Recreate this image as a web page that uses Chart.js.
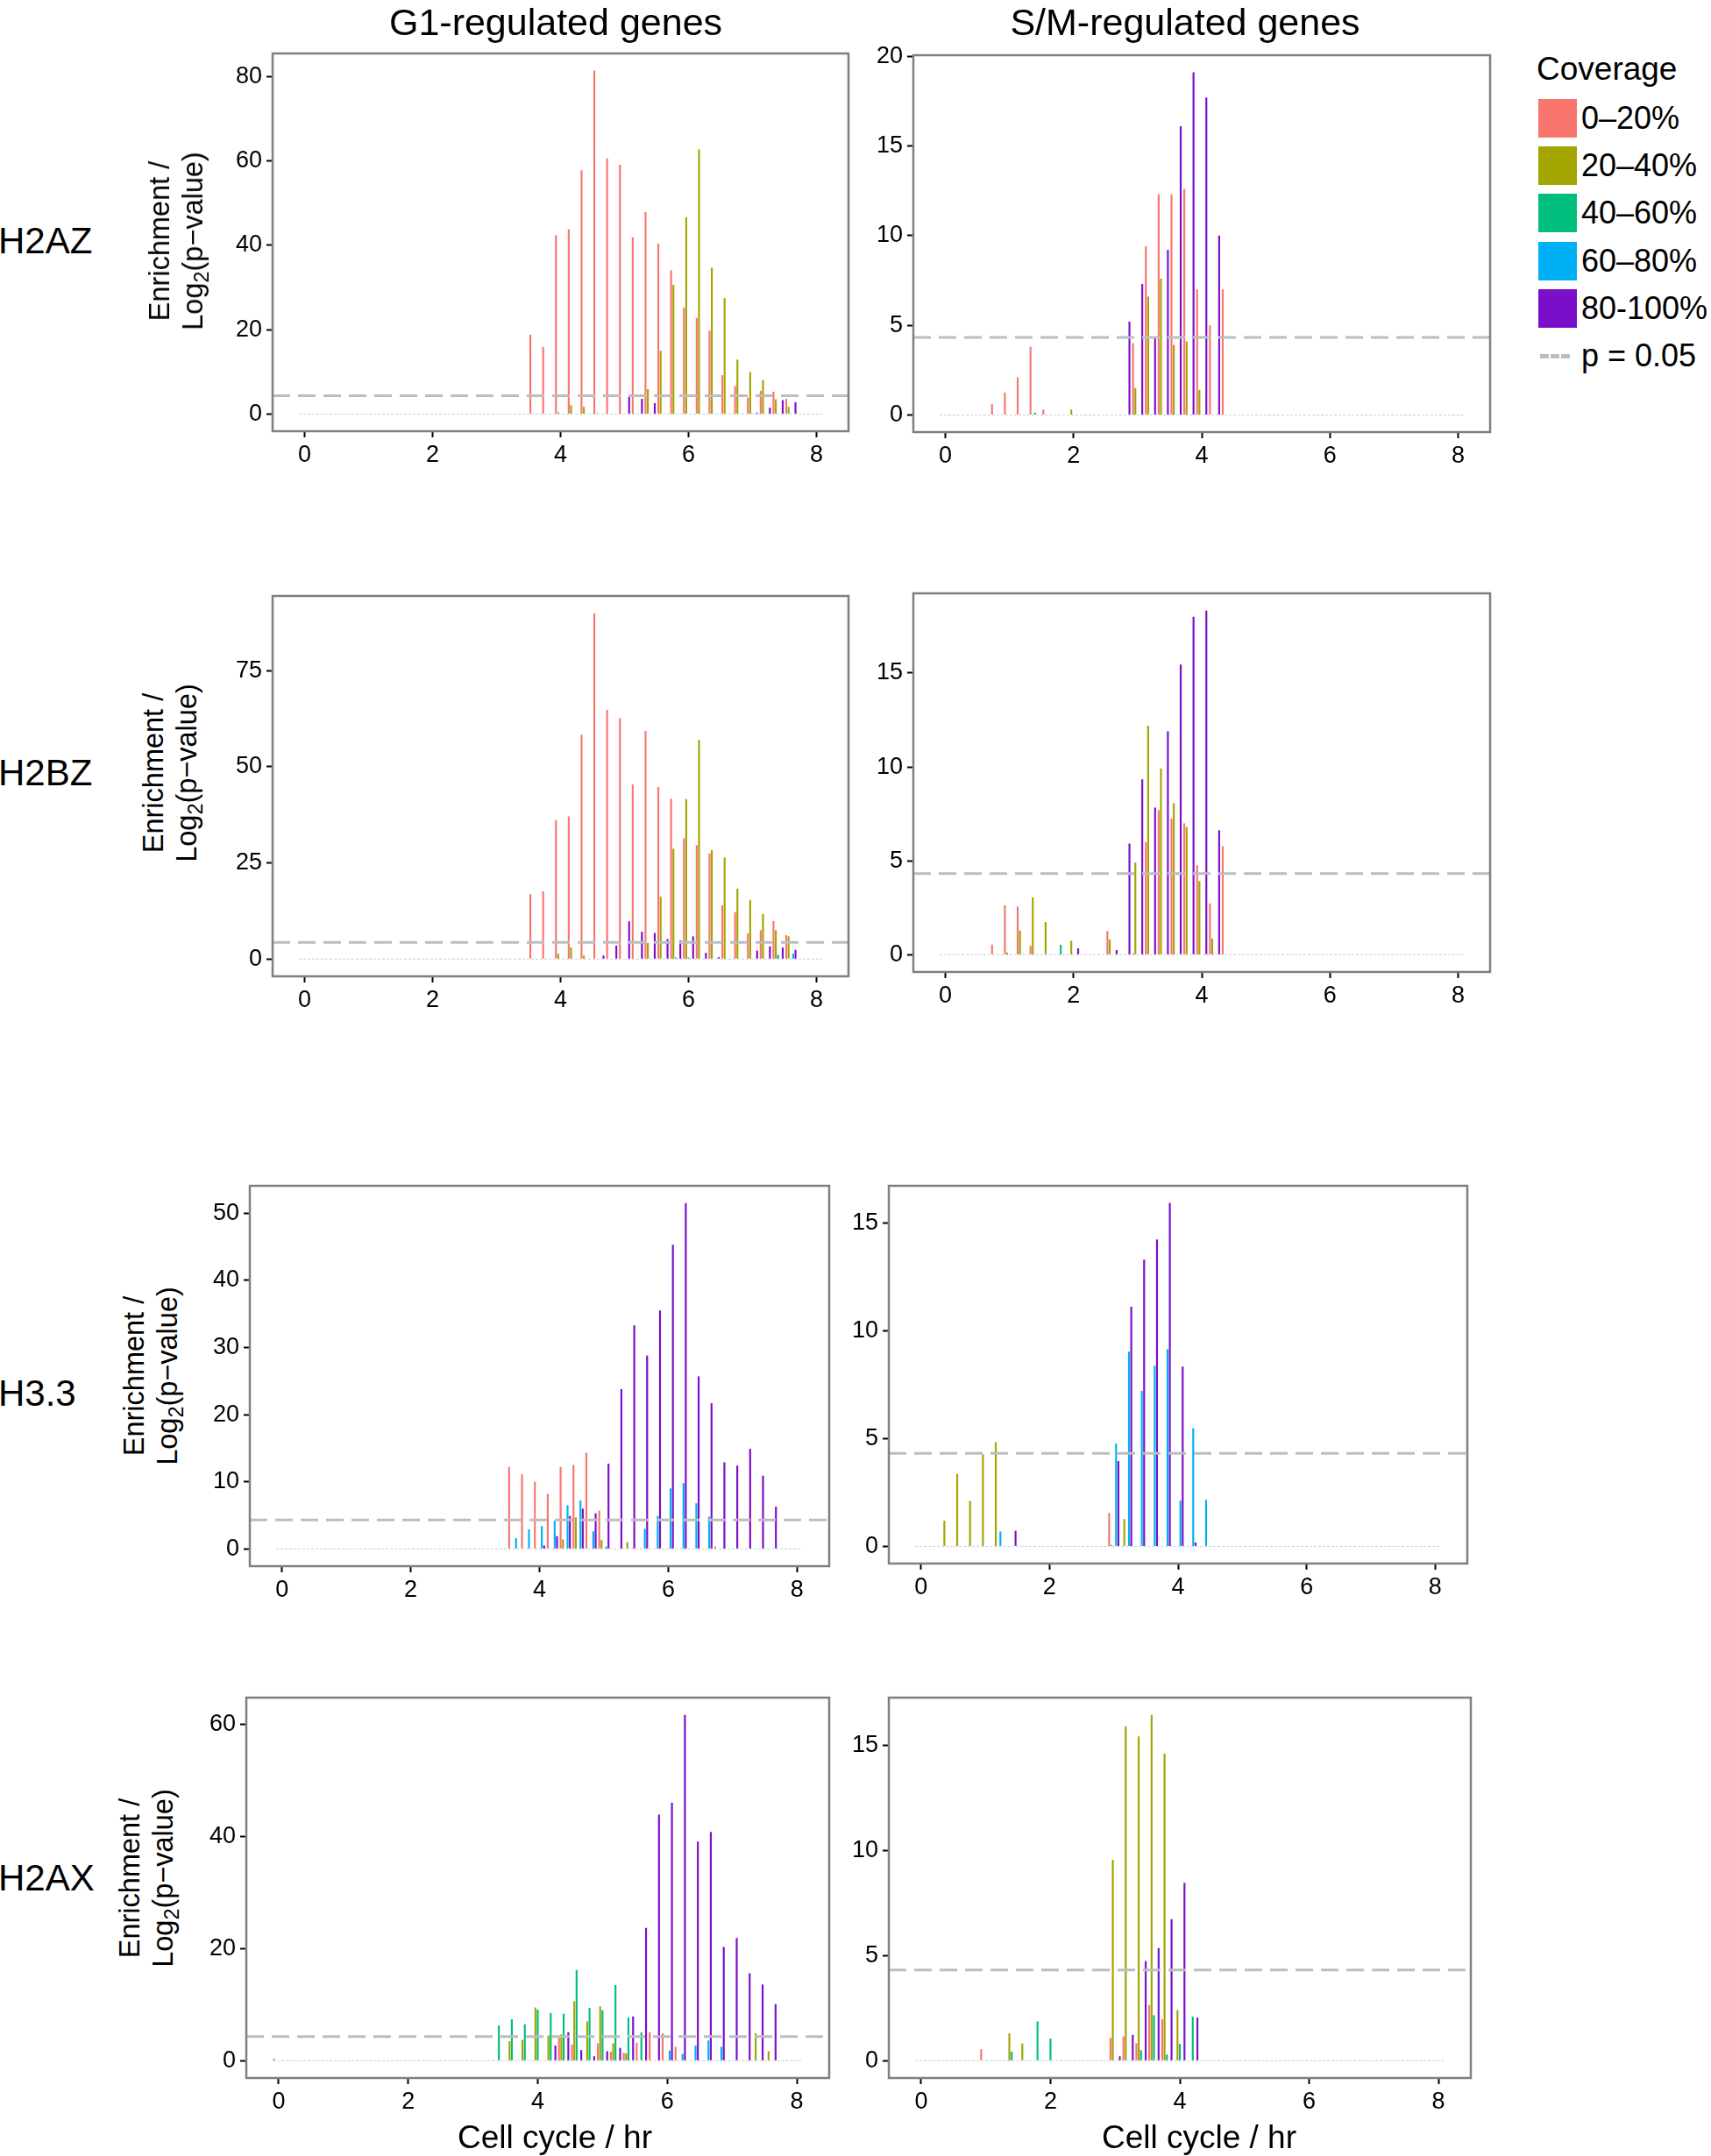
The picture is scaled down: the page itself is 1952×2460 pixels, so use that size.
<!DOCTYPE html>
<html>
<head>
<meta charset="utf-8">
<script src="https://cdn.jsdelivr.net/npm/chart.js@4.4.1/dist/chart.umd.min.js"></script>
<style>
  html, body { margin: 0; padding: 0; background: #ffffff; }
  body { width: 1952px; height: 2460px; position: relative; overflow: hidden;
         font-family: "Liberation Sans", Arial, Helvetica, sans-serif; color: #000; }
  canvas { position: absolute; }
  .txt { position: absolute; white-space: nowrap; line-height: 1; }
  .ctr { transform: translate(-50%, -50%); }
  .ytitle { position: absolute; white-space: nowrap; text-align: center; font-size: 32.5px; line-height: 38px;
            transform: translate(-50%, -50%) rotate(-90deg); }
  .ytitle sub { font-size: 0.72em; vertical-align: -0.28em; line-height: 0; }
  .sw { position: absolute; width: 44px; height: 44px; }
</style>
</head>
<body>
<script>
// ---------------- DATA ----------------
const coverageClasses = ['0–20%', '20–40%', '40–60%', '60–80%', '80-100%'];
const pThreshold = 4.32;              // -log2(0.05)
const xTickValues = [0, 2, 4, 6, 8];   // cell cycle / hr
const xRange = [-0.5, 8.5];
const sampledSpan = [0, 8];            // time points sampled (zero bars)

// time points (hr)
const hoursG1     = [3.6, 3.8, 4.0, 4.2, 4.4, 4.6, 4.8, 5.0, 5.2, 5.4, 5.6, 5.8, 6.0, 6.2, 6.4, 6.6, 6.8, 7.0, 7.2, 7.4, 7.6];
const hoursSM     = [0.8, 1.0, 1.2, 1.4, 1.6, 1.8, 2.0, 2.2, 2.4, 2.6, 2.8, 3.0, 3.2, 3.4, 3.6, 3.8, 4.0, 4.2, 4.4];
const hoursH33SM  = [0.4, 0.6, 0.8, 1.0, 1.2, 1.4, 1.6, 1.8, 2.0, 2.2, 2.4, 2.6, 2.8, 3.0, 3.2, 3.4, 3.6, 3.8, 4.0, 4.2, 4.4];
const hoursH2AXG1 = [0.0, 3.4, 3.6, 3.8, 4.0, 4.2, 4.4, 4.6, 4.8, 5.0, 5.2, 5.4, 5.6, 5.8, 6.0, 6.2, 6.4, 6.6, 6.8, 7.0, 7.2, 7.4, 7.6];
const hoursH2AXSM = [1.0, 1.2, 1.4, 1.6, 1.8, 2.0, 2.2, 2.4, 2.6, 2.8, 3.0, 3.2, 3.4, 3.6, 3.8, 4.0, 4.2];

// H2AZ, G1-regulated genes
const H2AZ_G1_c0_20   = [18.8, 15.9, 42.4, 43.8, 57.8, 81.4, 60.6, 59.1, 41.9, 47.9, 40.4, 34.1, 25.2, 22.8, 19.8, 9.2, 6.6, 3.9, 5.5, 5.3, 3.6];
const H2AZ_G1_c20_40  = [0, 0, 0.4, 2.1, 1.7, 0.2, 0, 0, 0, 5.9, 15.0, 30.6, 46.6, 62.7, 34.7, 27.5, 12.9, 10.0, 8.1, 3.5, 1.7];
const H2AZ_G1_c40_60  = [0, 0, 0, 0, 0, 0, 0, 0, 0, 0, 0, 0, 0, 0, 0, 0, 0, 0, 0, 0, 0];
const H2AZ_G1_c60_80  = [0, 0, 0, 0, 0, 0, 0, 0, 0, 0, 0, 0, 0, 0, 0, 0, 0, 0, 0, 0, 0];
const H2AZ_G1_c80_100 = [0, 0, 0, 0, 0, 0, 0, 4.1, 3.6, 2.6, 0, 0, 0, 0, 0, 0, 0, 0.3, 1.5, 3.3, 2.8];

// H2AZ, S/M-regulated genes
const H2AZ_SM_c0_20   = [0.6, 1.25, 2.1, 3.8, 0.3, 0, 0, 0, 0, 0, 0, 4.0, 9.4, 12.3, 12.3, 12.6, 7.0, 5.0, 7.0];
const H2AZ_SM_c20_40  = [0, 0, 0, 0, 0, 0, 0.3, 0, 0, 0, 0, 1.5, 6.6, 7.6, 3.9, 4.1, 1.4, 0, 0];
const H2AZ_SM_c40_60  = [0, 0, 0, 0.13, 0, 0, 0, 0, 0, 0, 0, 0, 0, 0, 0, 0, 0, 0, 0];
const H2AZ_SM_c60_80  = [0, 0, 0, 0, 0, 0, 0, 0, 0, 0, 0, 0, 0, 0, 0, 0, 0, 0, 0];
const H2AZ_SM_c80_100 = [0, 0, 0, 0, 0, 0, 0, 0, 0, 0, 5.2, 7.3, 4.3, 9.2, 16.1, 19.1, 17.7, 10.0, 0];

// H2BZ, G1-regulated genes
const H2BZ_G1_c0_20   = [16.9, 17.6, 36.1, 37.1, 58.3, 89.9, 64.8, 62.6, 45.4, 59.3, 44.7, 41.7, 31.4, 29.6, 27.5, 14.0, 12.2, 6.7, 7.5, 9.9, 6.2];
const H2BZ_G1_c20_40  = [0, 0, 1.4, 3.0, 0.9, 0, 0, 0, 0, 4.2, 16.2, 28.7, 41.6, 57.0, 28.3, 26.4, 18.3, 15.4, 11.7, 7.5, 5.9];
const H2BZ_G1_c40_60  = [0, 0, 0, 0, 0, 0, 0, 0, 0, 0, 0, 0.4, 0.4, 0, 0, 0, 0, 0, 0, 1.1, 0];
const H2BZ_G1_c60_80  = [0, 0, 0, 0, 0, 0, 0, 0, 0, 0, 0, 0, 0, 0, 0, 0, 0, 0, 0, 0, 1.4];
const H2BZ_G1_c80_100 = [0, 0, 0, 0, 0, 0.9, 3.5, 9.8, 7.1, 6.8, 5.2, 4.9, 5.9, 1.6, 0.5, 0, 0, 2.2, 3.3, 3.0, 2.4];

// H2BZ, S/M-regulated genes
const H2BZ_SM_c0_20   = [0.54, 2.63, 2.57, 0.48, 0, 0, 0, 0, 0, 1.26, 0, 0.08, 6.0, 7.7, 7.25, 7.0, 4.77, 2.74, 5.78];
const H2BZ_SM_c20_40  = [0, 0.12, 1.29, 3.05, 1.74, 0, 0.74, 0, 0, 0.81, 0, 4.91, 12.2, 9.92, 8.07, 6.8, 3.92, 0.87, 0];
const H2BZ_SM_c40_60  = [0, 0, 0, 0, 0, 0.53, 0, 0, 0, 0, 0, 0, 0, 0, 0, 0, 0, 0, 0];
const H2BZ_SM_c60_80  = [0, 0, 0, 0, 0, 0, 0, 0, 0, 0, 0, 0, 0, 0, 0, 0, 0, 0, 0];
const H2BZ_SM_c80_100 = [0, 0, 0, 0, 0, 0, 0.34, 0, 0, 0.25, 5.92, 9.34, 7.84, 11.9, 15.45, 18.0, 18.33, 6.63, 0];

// H3.3, G1-regulated genes
const H33_G1_c0_20    = [12.2, 11.1, 10.0, 8.2, 12.2, 12.5, 14.3, 5.7, 0, 0, 0, 0, 0, 0, 0, 0, 0.35, 0, 0, 0, 0];
const H33_G1_c20_40   = [0, 0, 0, 0, 1.4, 4.7, 0, 1.3, 0, 1.0, 0.1, 0, 0, 0, 0, 0, 0, 0, 0, 0, 0];
const H33_G1_c40_60   = [0, 0, 0, 0, 0, 0, 0, 0, 0, 0, 0, 0, 0, 0, 0, 0, 0, 0, 0, 0, 0];
const H33_G1_c60_80   = [1.6, 2.9, 3.4, 4.2, 6.5, 7.2, 2.6, 0.35, 0, 0, 3.0, 4.9, 9.0, 9.8, 6.8, 4.8, 0.1, 0, 0, 0, 0];
const H33_G1_c80_100  = [0, 0, 0.5, 1.9, 4.9, 6.0, 5.3, 12.7, 23.8, 33.3, 28.8, 35.5, 45.3, 51.5, 25.7, 21.7, 12.9, 12.4, 14.9, 10.9, 6.3];

// H3.3, S/M-regulated genes
const H33_SM_c0_20    = [0, 0, 0, 0, 0, 0, 0, 0, 0, 0, 0, 0, 0, 1.55, 0, 0, 0, 0, 0, 0, 0];
const H33_SM_c20_40   = [1.19, 3.36, 2.11, 4.27, 4.83, 0, 0, 0, 0, 0, 0, 0, 0, 0.07, 1.27, 0, 0, 0, 0, 0, 0];
const H33_SM_c40_60   = [0, 0, 0, 0, 0, 0, 0, 0, 0, 0, 0, 0, 0, 0, 0, 0, 0, 0, 0, 0, 0];
const H33_SM_c60_80   = [0, 0, 0, 0, 0.69, 0, 0, 0, 0, 0, 0, 0, 0, 4.77, 9.03, 7.22, 8.38, 9.15, 2.12, 5.48, 2.16];
const H33_SM_c80_100  = [0, 0, 0, 0, 0, 0.72, 0, 0, 0, 0, 0, 0, 0, 3.96, 11.12, 13.3, 14.24, 15.93, 8.34, 0.18, 0];

// H2AX, G1-regulated genes
const H2AX_G1_c0_20   = [0.4, 0, 0, 0, 0, 0, 4.1, 2.9, 0, 3.1, 1.6, 1.4, 3.2, 5.1, 4.9, 2.5, 0, 0, 0, 0, 0, 0, 0];
const H2AX_G1_c20_40  = [0, 0, 3.5, 3.7, 9.5, 4.5, 4.7, 10.6, 7.0, 9.7, 3.1, 1.3, 0, 0, 0, 0, 0, 0.1, 0, 0, 0.1, 4.9, 1.7];
const H2AX_G1_c40_60  = [0, 6.3, 7.4, 6.5, 9.1, 8.5, 8.4, 16.2, 9.4, 9.0, 13.5, 7.7, 5.1, 0, 0, 0, 0, 0, 0, 0, 0, 0, 0];
const H2AX_G1_c60_80  = [0, 0, 0, 0, 0, 0, 0, 0, 0, 0, 0, 0, 0, 0, 1.8, 1.2, 2.7, 3.6, 2.5, 0, 0, 0, 0];
const H2AX_G1_c80_100 = [0, 0, 0, 0, 0, 2.7, 5.1, 1.9, 0.8, 1.7, 2.3, 7.9, 23.7, 43.9, 46.0, 61.7, 39.1, 40.8, 20.3, 21.9, 15.6, 13.6, 10.1];

// H2AX, S/M-regulated genes
const H2AX_SM_c0_20   = [0.55, 0, 0, 0, 0, 0, 0, 0, 0, 0, 1.09, 1.16, 0.83, 2.65, 1.97, 0, 0];
const H2AX_SM_c20_40  = [0, 0, 1.30, 0.82, 0, 0, 0, 0, 0, 0, 9.56, 15.91, 15.43, 16.45, 14.6, 2.41, 0];
const H2AX_SM_c40_60  = [0, 0, 0.43, 0, 1.87, 1.05, 0, 0, 0, 0, 0, 0, 0.5, 2.16, 0.29, 0.80, 2.1];
const H2AX_SM_c60_80  = [0, 0, 0, 0, 0, 0, 0, 0, 0, 0, 0, 0, 0, 0, 0, 0, 0];
const H2AX_SM_c80_100 = [0, 0, 0, 0, 0, 0, 0, 0, 0, 0, 0.21, 1.23, 4.74, 5.36, 6.73, 8.46, 2.05];

// y-axis tick labels
const yTicksH2AZ_G1 = [0, 20, 40, 60, 80];
const yTicksH2AZ_SM = [0, 5, 10, 15, 20];
const yTicksH2BZ_G1 = [0, 25, 50, 75];
const yTicksH2BZ_SM = [0, 5, 10, 15];
const yTicksH33_G1  = [0, 10, 20, 30, 40, 50];
const yTicksH33_SM  = [0, 5, 10, 15];
const yTicksH2AX_G1 = [0, 20, 40, 60];
const yTicksH2AX_SM = [0, 5, 10, 15];

// ---------------- STYLE / LAYOUT ----------------
const coverageColors = ['#F8766D', '#A3A500', '#00BF7D', '#00B0F6', '#7A0FCA'];

const panels = [
  { hours: hoursG1,     series: [H2AZ_G1_c0_20, H2AZ_G1_c20_40, H2AZ_G1_c40_60, H2AZ_G1_c60_80, H2AZ_G1_c80_100], yTicks: yTicksH2AZ_G1, box: [311, 61, 968, 492] },
  { hours: hoursSM,     series: [H2AZ_SM_c0_20, H2AZ_SM_c20_40, H2AZ_SM_c40_60, H2AZ_SM_c60_80, H2AZ_SM_c80_100], yTicks: yTicksH2AZ_SM, box: [1042, 63, 1700, 493] },
  { hours: hoursG1,     series: [H2BZ_G1_c0_20, H2BZ_G1_c20_40, H2BZ_G1_c40_60, H2BZ_G1_c60_80, H2BZ_G1_c80_100], yTicks: yTicksH2BZ_G1, box: [311, 680, 968, 1114] },
  { hours: hoursSM,     series: [H2BZ_SM_c0_20, H2BZ_SM_c20_40, H2BZ_SM_c40_60, H2BZ_SM_c60_80, H2BZ_SM_c80_100], yTicks: yTicksH2BZ_SM, box: [1042, 677, 1700, 1109] },
  { hours: hoursG1,     series: [H33_G1_c0_20, H33_G1_c20_40, H33_G1_c40_60, H33_G1_c60_80, H33_G1_c80_100], yTicks: yTicksH33_G1, box: [285, 1353, 946, 1787] },
  { hours: hoursH33SM,  series: [H33_SM_c0_20, H33_SM_c20_40, H33_SM_c40_60, H33_SM_c60_80, H33_SM_c80_100], yTicks: yTicksH33_SM, box: [1014, 1353, 1674, 1784] },
  { hours: hoursH2AXG1, series: [H2AX_G1_c0_20, H2AX_G1_c20_40, H2AX_G1_c40_60, H2AX_G1_c60_80, H2AX_G1_c80_100], yTicks: yTicksH2AX_G1, box: [281, 1937, 946, 2371] },
  { hours: hoursH2AXSM, series: [H2AX_SM_c0_20, H2AX_SM_c20_40, H2AX_SM_c40_60, H2AX_SM_c60_80, H2AX_SM_c80_100], yTicks: yTicksH2AX_SM, box: [1014, 1937, 1678, 2371] }
];

Chart.defaults.font.family = '"Liberation Sans", Arial, Helvetica, sans-serif';
Chart.defaults.color = '#000';

const panelBox = {
  id: 'panelBox',
  afterDraw(chart) {
    const { ctx, chartArea: a } = chart;
    ctx.save();
    ctx.strokeStyle = '#7f7f7f';
    ctx.lineWidth = 2.5;
    ctx.strokeRect(a.left, a.top, a.right - a.left, a.bottom - a.top);
    ctx.restore();
  }
};

function axisCommon() {
  return {
    grid: { drawOnChartArea: false, drawTicks: true, tickLength: 7, tickColor: '#000', tickWidth: 2, offset: false },
    border: { display: false }
  };
}

function makePanel(p) {
  const padL = 70, padT = 26, padR = 20, padB = 60;
  const w = p.box[2] - p.box[0], h = p.box[3] - p.box[1];
  const cv = document.createElement('canvas');
  cv.width = w + padL + padR;
  cv.height = h + padT + padB;
  cv.style.left = (p.box[0] - padL) + 'px';
  cv.style.top = (p.box[1] - padT) + 'px';
  cv.style.width = cv.width + 'px';
  cv.style.height = cv.height + 'px';
  document.body.appendChild(cv);

  const M = Math.max(...p.series.flat());
  const datasets = p.series.map((vals, i) => ({
    type: 'bar', label: coverageClasses[i], data: vals,
    backgroundColor: coverageColors[i], borderWidth: 0,
    categoryPercentage: 0.9, barPercentage: 0.82, order: 1
  }));
  datasets.push({
    type: 'line', label: 'baseline',
    data: [{ x: sampledSpan[0] - 0.09, y: 0 }, { x: sampledSpan[1] + 0.09, y: 0 }],
    borderColor: 'rgba(178,184,205,0.7)', borderWidth: 1, borderDash: [3, 2], pointRadius: 0, order: 2
  });
  datasets.push({
    type: 'line', label: 'p = 0.05',
    data: [{ x: xRange[0], y: pThreshold }, { x: xRange[1], y: pThreshold }],
    borderColor: '#bdbdbd', borderWidth: 3, borderDash: [20, 9], pointRadius: 0, order: 0
  });

  const xc = axisCommon(), yc = axisCommon();
  new Chart(cv, {
    type: 'bar',
    data: { labels: p.hours, datasets },
    options: {
      responsive: false, animation: false, devicePixelRatio: 1,
      layout: { padding: { left: 0, top: padT, right: padR, bottom: 0 } },
      plugins: { legend: { display: false }, tooltip: { enabled: false } },
      scales: {
        x: Object.assign(xc, {
          type: 'linear', min: xRange[0], max: xRange[1], offset: false, bounds: 'data',
          afterBuildTicks: s => { s.ticks = xTickValues.map(v => ({ value: v })); },
          afterFit: s => { s.height = padB; },
          ticks: { font: { size: 27 }, color: '#000', padding: 4, maxRotation: 0, autoSkip: false }
        }),
        y: Object.assign(yc, {
          type: 'linear', min: -0.05 * M, max: 1.05 * M, bounds: 'data',
          afterBuildTicks: s => { s.ticks = p.yTicks.map(v => ({ value: v })); },
          afterFit: s => { s.width = padL; },
          ticks: { font: { size: 27 }, color: '#000', padding: 5, autoSkip: false }
        })
      }
    },
    plugins: [panelBox]
  });
}
panels.forEach(makePanel);

// ---------------- TEXT ----------------
function addText(html, x, y, size, cls) {
  const d = document.createElement('div');
  d.className = cls || 'txt ctr';
  d.style.left = x + 'px'; d.style.top = y + 'px';
  d.style.fontSize = size + 'px';
  d.innerHTML = html;
  document.body.appendChild(d);
  return d;
}
addText('G1-regulated genes', 634, 25, 43);
addText('S/M-regulated genes', 1352, 25, 43);

const rowLabels = ['H2AZ', 'H2BZ', 'H3.3', 'H2AX'];
const rowLabelY = [275, 882, 1590, 2143];
rowLabels.forEach((t, i) => {
  const d = addText(t, -2, rowLabelY[i], 42, 'txt');
  d.style.transform = 'translateY(-50%)';
});

const yTitlePos = [[201, 275], [194, 882], [172, 1570], [167, 2143]];
yTitlePos.forEach(([x, y]) => {
  const d = document.createElement('div');
  d.className = 'ytitle';
  d.style.left = x + 'px'; d.style.top = y + 'px';
  d.innerHTML = 'Enrichment /<br>Log<sub>2</sub>(p−value)';
  document.body.appendChild(d);
});

addText('Cell cycle / hr', 633, 2438, 37);
addText('Cell cycle / hr', 1368, 2438, 37);

// legend
addText('Coverage', 1753, 78, 37, 'txt').style.transform = 'translateY(-50%)';
const legendY = [135, 189, 243, 298, 352];
coverageClasses.forEach((c, i) => {
  const s = document.createElement('div');
  s.className = 'sw';
  s.style.left = '1755px'; s.style.top = (legendY[i] - 22) + 'px';
  s.style.background = coverageColors[i];
  document.body.appendChild(s);
  addText(c, 1804, legendY[i], 36, 'txt').style.transform = 'translateY(-50%)';
});
const dash = document.createElement('div');
dash.style.cssText = 'position:absolute;left:1757px;top:404px;width:34px;height:0;border-top:5px dashed #bdbdbd;';
document.body.appendChild(dash);
addText('p = 0.05', 1804, 406, 36, 'txt').style.transform = 'translateY(-50%)';
</script>
</body>
</html>
